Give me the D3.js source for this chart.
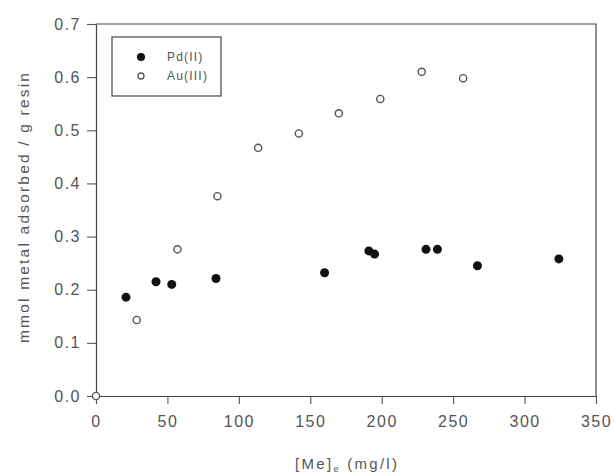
<!DOCTYPE html>
<html>
<head>
<meta charset="utf-8">
<script src="https://cdn.jsdelivr.net/npm/d3@7"></script>
<style>
  body { margin: 0; background: #fff; }
  svg text { font-family: "Liberation Sans", Arial, sans-serif; fill: #555; }
</style>
</head>
<body>
<div id="chart"></div>
<script>
// data
var pdConc = [21, 42, 53, 84, 160, 191, 195, 231, 239, 267, 324];
var pdAds  = [0.186, 0.215, 0.210, 0.221, 0.232, 0.273, 0.267, 0.276, 0.276, 0.245, 0.258];
var auConc = [0, 28.5, 57, 85, 113.5, 142, 170, 199, 228, 257];
var auAds  = [0, 0.143, 0.276, 0.376, 0.467, 0.494, 0.532, 0.559, 0.610, 0.598];
var xTicks = [0, 50, 100, 150, 200, 250, 300, 350];
var yTicks = [0, 0.1, 0.2, 0.3, 0.4, 0.5, 0.6, 0.7];
var seriesNames = ["Pd(II)", "Au(III)"];

var svgWidth = 614;
var svgHeight = 476;
var margin = {top: 24, right: 18, bottom: 80, left: 96};
var width = svgWidth - margin.left - margin.right;
var height = svgHeight - margin.top - margin.bottom;

var svg = d3.select("#chart")
    .append("svg")
    .attr("width", svgWidth)
    .attr("height", svgHeight);

var chartGroup = svg.append("g")
    .attr("transform", `translate(${margin.left}, ${margin.top})`);

var xScale = d3.scaleLinear().domain([0, 350]).range([0, width]);
var yScale = d3.scaleLinear().domain([0, 0.7]).range([height, 0]);

// frame (top and right sides)
chartGroup.append("path")
    .attr("d", `M0,0H${width}V${height}`)
    .attr("fill", "none")
    .attr("stroke", "#444")
    .attr("stroke-width", 1.2);

var bottomAxis = d3.axisBottom(xScale).tickValues(xTicks).tickSize(8).tickSizeOuter(0)
    .tickFormat(d3.format("d"));
var leftAxis = d3.axisLeft(yScale).tickValues(yTicks).tickSize(9).tickSizeOuter(0)
    .tickFormat(d3.format(".1f"));

var xAxis = chartGroup.append("g")
    .attr("transform", `translate(0, ${height})`)
    .call(bottomAxis);
var yAxis = chartGroup.append("g")
    .call(leftAxis);

[xAxis, yAxis].forEach(function(ax) {
    ax.select(".domain").attr("stroke", "#444").attr("stroke-width", 1.2);
    ax.selectAll(".tick line").attr("stroke", "#555").attr("stroke-width", 1.1);
    ax.selectAll(".tick text")
        .attr("fill", "#555")
        .style("font-size", "16px")
        .style("letter-spacing", "1.5px")
        .style("font-family", "'Liberation Sans', Arial, sans-serif");
});
xAxis.selectAll(".tick text").attr("y", 20);
yAxis.selectAll(".tick text").attr("x", -15);

// Pd(II) filled
chartGroup.selectAll(".pd")
    .data(pdConc)
    .enter()
    .append("circle")
    .attr("class", "pd")
    .attr("cx", d => xScale(d))
    .attr("cy", (d, i) => yScale(pdAds[i]))
    .attr("r", 4.5)
    .attr("fill", "#111");

// Au(III) open
chartGroup.selectAll(".au")
    .data(auConc)
    .enter()
    .append("circle")
    .attr("class", "au")
    .attr("cx", d => xScale(d))
    .attr("cy", (d, i) => yScale(auAds[i]))
    .attr("r", 3.6)
    .attr("fill", "#fff")
    .attr("stroke", "#555")
    .attr("stroke-width", 1.4);

// legend
var legend = svg.append("g").attr("transform", "translate(112, 37)");
legend.append("rect")
    .attr("width", 109)
    .attr("height", 59)
    .attr("fill", "#fff")
    .attr("stroke", "#444")
    .attr("stroke-width", 1.2);
legend.append("circle").attr("cx", 29).attr("cy", 20).attr("r", 4).attr("fill", "#111");
legend.append("circle").attr("cx", 29).attr("cy", 39).attr("r", 3)
    .attr("fill", "#fff").attr("stroke", "#555").attr("stroke-width", 1.3);
legend.selectAll(".lt")
    .data(seriesNames)
    .enter()
    .append("text")
    .attr("class", "lt")
    .attr("x", 55)
    .attr("y", (d, i) => 24 + i * 19)
    .style("font-size", "12px")
    .style("letter-spacing", "1.2px")
    .text(d => d);

// axis titles
var xTitle = svg.append("text")
    .attr("x", margin.left + width / 2)
    .attr("y", 469)
    .attr("text-anchor", "middle")
    .attr("textLength", 102)
    .attr("lengthAdjust", "spacing")
    .style("font-size", "15px");
xTitle.append("tspan").text("[Me]");
xTitle.append("tspan").attr("dy", 3).style("font-size", "9px").text("e");
xTitle.append("tspan").attr("dy", -3).text(" (mg/l)");

svg.append("text")
    .attr("transform", `translate(29, 208) rotate(-90)`)
    .attr("text-anchor", "middle")
    .attr("textLength", 270)
    .attr("lengthAdjust", "spacing")
    .style("font-size", "15.5px")
    .text("mmol metal adsorbed / g resin");
</script>
</body>
</html>
